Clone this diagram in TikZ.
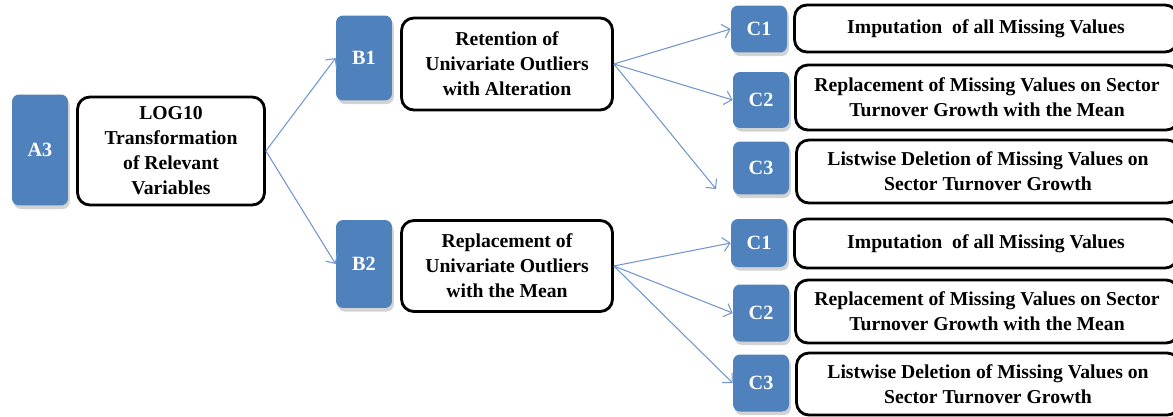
\documentclass[tikz,border=0pt]{standalone}
\usepackage{fontspec}
\setmainfont{Liberation Serif}
\usepackage{xcolor}
\usetikzlibrary{arrows.meta, positioning, shadows}

\definecolor{tagblue}{RGB}{79,129,189}
\definecolor{linkblue}{RGB}{112,150,205}

\begin{document}
\begin{tikzpicture}[
    x=0.02cm, y=-0.02cm,
    tag/.style={rectangle, rounded corners=4pt, fill=tagblue, text=white, minimum width=1.12cm, font=\fontsize{11.5}{14}\selectfont\bfseries, drop shadow={opacity=0.35, shadow xshift=1pt, shadow yshift=-2pt}},
    info/.style={rectangle, draw, line width=1.6pt, rounded corners=7pt, fill=white, align=center, inner sep=1pt, font=\fontsize{11.2}{14.2}\selectfont\bfseries},
    link/.style={-{Straight Barb[length=4pt, width=8pt]}, linkblue, semithick}
]
    \useasboundingbox (0,0) rectangle (1173,416);
    \clip (0,0) rectangle (1173,416);

    % LEFT: A3
    \node (A3) [tag, minimum height=2.22cm] at (40,150) {A3};
    \node (Log) [info, minimum width=3.74cm, minimum height=2.16cm] at (171,151) {LOG10\\Transformation\\of Relevant\\Variables};

    % MIDDLE: B1 AND B2
    \node (B1) [tag, minimum height=1.7cm] at (364,58) {B1};
    \node (Retain) [info, minimum width=4.22cm, minimum height=1.84cm] at (507,64) {Retention of\\Univariate Outliers\\with Alteration};
    \node (B2) [tag, minimum height=1.76cm] at (364,264) {B2};
    \node (Replace) [info, minimum width=4.22cm, minimum height=1.82cm] at (507,266) {Replacement of\\Univariate Outliers\\with the Mean};

    \draw[link] (Log.east) -- (B1.west);
    \draw[link] (Log.east) -- (B2.west);

    % RIGHT: C UNDER B1
    \node (C1a) [tag, minimum height=0.94cm] at (759,29) {C1};
    \node (Impute1) [info, minimum width=7.66cm, minimum height=0.94cm] at (986,28.5) {Imputation\ \ of all Missing Values};
    \node (C2a) [tag, minimum height=1.12cm] at (761,100) {C2};
    \node (Mean1) [info, minimum width=7.66cm, minimum height=1.3cm] at (987,97.5) {Replacement of Missing Values on Sector\\Turnover Growth with the Mean};
    \node (C3a) [tag, minimum height=1.06cm] at (761,168) {C3};
    \node (Delete1) [info, minimum width=7.66cm, minimum height=1.26cm] at (988,171.5) {Listwise Deletion of Missing Values on\\Sector Turnover Growth};
    \coordinate (C3aend) at (716,189);

    \draw[link] (Retain.east) -- (C1a.west);
    \draw[link] (Retain.east) -- (C2a.west);
    \draw[link] (Retain.east) -- (C3aend);

    % RIGHT: C UNDER B2
    \node (C1b) [tag, minimum height=0.96cm] at (759,243) {C1};
    \node (Impute2) [info, minimum width=7.66cm, minimum height=0.98cm] at (986,243.5) {Imputation\ \ of all Missing Values};
    \node (C2b) [tag, minimum height=1.14cm] at (761,313) {C2};
    \node (Mean2) [info, minimum width=7.66cm, minimum height=1.26cm] at (987,311.5) {Replacement of Missing Values on Sector\\Turnover Growth with the Mean};
    \node (C3b) [tag, minimum height=1.14cm] at (761,383) {C3};
    \node (Delete2) [info, minimum width=7.66cm, minimum height=1.24cm] at (988,384) {Listwise Deletion of Missing Values on\\Sector Turnover Growth};

    \draw[link] (Replace.east) -- (C1b.west);
    \draw[link] (Replace.east) -- (C2b.west);
    \draw[link] (Replace.east) -- (C3b.west);
\end{tikzpicture}
\end{document}
